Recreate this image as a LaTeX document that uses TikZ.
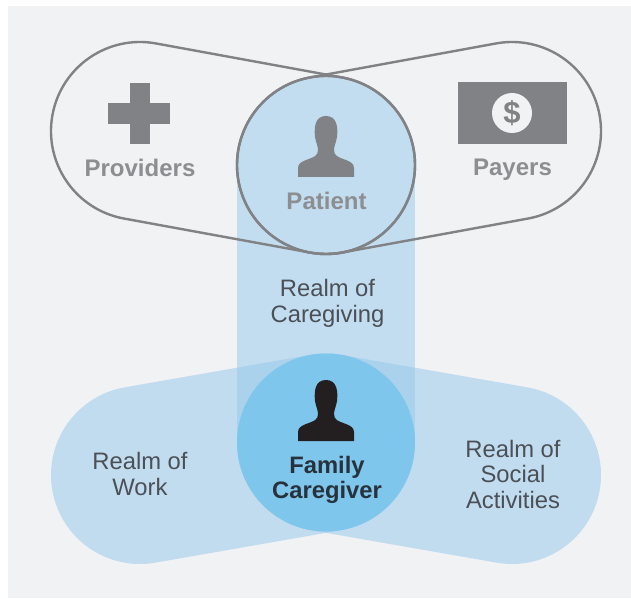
\documentclass[tikz,border=0pt]{standalone}
\usepackage{fontspec}
\setmainfont{Liberation Sans}
\usetikzlibrary{calc}
\definecolor{panel}{HTML}{F1F2F4}
\definecolor{realmfill}{HTML}{C3DDF0}
\definecolor{realmalpha}{HTML}{95C8EC}
\definecolor{carefill}{HTML}{7FC6EC}
\definecolor{iconGray}{HTML}{808285}
\definecolor{labelGray}{HTML}{8C8E92}
\definecolor{realmText}{HTML}{4A5056}
\definecolor{familyText}{HTML}{27323C}
\definecolor{iconDark}{HTML}{231F20}
\newcommand{\lobeshape}[4]{%
  \pgfmathsetmacro{\angA}{#3}\pgfmathsetmacro{\angB}{#3-180}\pgfmathsetmacro{\angC}{#3+180}%
  \path[#4] ($(#1)+(\angA:89)$) -- ($(#2)+(\angA:89)$) arc[start angle=\angA,end angle=\angB,radius=89]
  -- ($(#1)+(\angC:89)$) arc[start angle=\angC,end angle=\angA,radius=89] -- cycle;}
\tikzset{
  x=1pt,y=1pt,
  lobefill/.style={fill=realmalpha,fill opacity=.5,draw=none},
  lobeline/.style={draw=iconGray,line width=2.4pt,fill=none},
  head/.style={font=\fontsize{24}{24}\selectfont\bfseries,text=labelGray,inner sep=0pt},
  realm/.style={font=\fontsize{23.8}{25.5}\selectfont,text=realmText,align=center,inner sep=0pt},
  family/.style={font=\fontsize{23.8}{25}\selectfont\bfseries,text=familyText,align=center,inner sep=0pt},
  person/.pic={\fill (-28,0) -- (28,0) -- (28,9) .. controls (28,13) and (25,15) .. (20,17)
     .. controls (12,20) and (8,21) .. (8,27) .. controls (8,31) and (10,34) .. (11,40)
     .. controls (12,50) and (11,61) .. (0,61) .. controls (-11,61) and (-12,50) .. (-11,40)
     .. controls (-10,34) and (-8,31) .. (-8,27) .. controls (-8,21) and (-12,20) .. (-20,17)
     .. controls (-25,15) and (-28,13) .. (-28,9) -- cycle;}
}
\begin{document}
\begin{tikzpicture}
\useasboundingbox (0,0) rectangle (631,598);
\fill[white] (0,0) rectangle (631,598);
\fill[panel] (8,0) rectangle (631,592);
% centres (y measured upward)
\coordinate (provC) at (140,467);
\coordinate (payC) at (512,467);
\coordinate (patC) at (326,433);
\coordinate (workC) at (140,123);
\coordinate (socC) at (512,123);
\coordinate (famC) at (326,155.5);
% realm of caregiving band
\fill[realmfill] (237,155.5) rectangle (415,433);
\fill[realmfill] (patC) circle[radius=89];
% lower realms
\lobeshape{workC}{famC}{99.9}{lobefill}
\lobeshape{famC}{socC}{80.1}{lobefill}
\fill[carefill] (famC) circle[radius=89];
% upper outlines
\lobeshape{provC}{patC}{79.64}{lobeline}
\lobeshape{patC}{payC}{100.36}{lobeline}
\draw[lobeline] (patC) circle[radius=89];
% providers cross
\fill[iconGray] (130,515) rectangle (150,454);
\fill[iconGray] (108,495) rectangle (170,474);
% payers banknote
\fill[iconGray] (458,516) rectangle (567,454);
\fill[panel] (512,485) circle[radius=20];
\node[font=\fontsize{31}{31}\selectfont\bfseries,text=iconGray,inner sep=0pt] (dollar) at (512,485) {\$};
% people
\pic[iconGray] at (326,421) {person};
\pic[iconDark] at (326,157) {person};
% labels
\node[head] (providers) at (140,430) {Providers};
\node[head] (payers) at (512.5,428.5) {Payers};
\node[head] (patient) at (326.5,397) {Patient};
\node[realm] (caregiving) at (327.5,294.5) {Realm of\\Caregiving};
\node[family] (caregiver) at (327,118.5) {Family\\Caregiver};
\node[realm] (work) at (140,124) {Realm of\\Work};
\node[realm] (social) at (513,124) {Realm of\\Social\\Activities};
\end{tikzpicture}
\end{document}
